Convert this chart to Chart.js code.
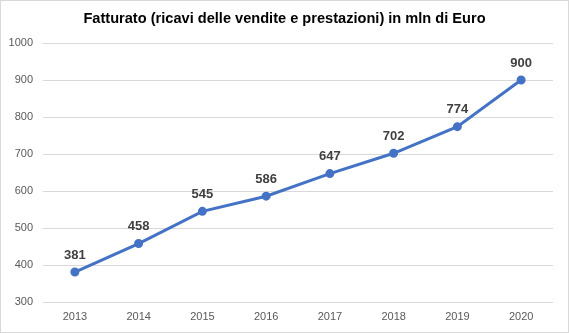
<!DOCTYPE html>
<html><head><meta charset="utf-8">
<script src="https://cdn.jsdelivr.net/npm/chart.js@4"></script>
<style>
html,body{margin:0;padding:0;background:#fff;}
#wrap{width:569px;height:333px;box-sizing:border-box;border:1px solid #d9d9d9;position:relative;}
canvas{display:block;}
</style></head>
<body>
<div id="wrap"><canvas id="c" width="567" height="331"></canvas></div>
<script>
const categories = ['2013','2014','2015','2016','2017','2018','2019','2020'];
const fatturato = [381, 458, 545, 586, 647, 702, 774, 900];
const yTicks = [300, 400, 500, 600, 700, 800, 900, 1000];
const titleText = 'Fatturato (ricavi delle vendite e prestazioni) in mln di Euro';

const labelPlugin = {
  id: 'valueLabels',
  afterDatasetsDraw(chart) {
    const ctx = chart.ctx;
    const meta = chart.getDatasetMeta(0);
    ctx.save();
    ctx.font = 'bold 13px "Liberation Sans", Arial, sans-serif';
    ctx.fillStyle = '#404040';
    ctx.textAlign = 'center';
    ctx.textBaseline = 'middle';
    meta.data.forEach((pt, i) => {
      ctx.fillText(String(chart.data.datasets[0].data[i]), pt.x, pt.y - 17);
    });
    ctx.restore();
  }
};

const FONT = '"Liberation Sans", Arial, sans-serif';

new Chart(document.getElementById('c'), {
  type: 'line',
  data: {
    labels: categories,
    datasets: [{
      data: fatturato,
      borderColor: '#4472C4',
      backgroundColor: '#4472C4',
      borderWidth: 3,
      pointRadius: 3,
      pointHoverRadius: 3,
      tension: 0,
      yAxisID: 'y'
    }]
  },
  options: {
    responsive: false,
    animation: false,
    layout: { padding: { left: 0, right: 0, top: 9, bottom: 0 } },
    plugins: {
      legend: { display: false },
      tooltip: { enabled: false },
      title: {
        display: true,
        text: titleText,
        color: '#000000',
        font: { family: FONT, size: 14.6, weight: 'bold' },
        padding: { top: 0, bottom: 15.5 }
      }
    },
    scales: {
      x: {
        offset: true,
        grid: { display: false },
        border: { display: false },
        afterFit(axis) { axis.height = 30; },
        ticks: { color: '#595959', font: { family: FONT, size: 11 }, padding: 0, maxRotation: 0 }
      },
      y: {
        position: 'left',
        min: 300,
        max: 1000,
        afterBuildTicks(axis) { axis.ticks = yTicks.map(v => ({ value: v })); },
        afterFit(axis) { axis.width = 42; },
        grid: { color: '#d9d9d9', lineWidth: 1, drawTicks: false },
        border: { display: false },
        ticks: { color: '#595959', font: { family: FONT, size: 11 }, padding: 10,
                 callback: (v) => String(v) }
      },
      spacer: {
        type: 'linear',
        position: 'right',
        min: 300,
        max: 1000,
        afterFit(axis) { axis.width = 15; },
        grid: { display: false, drawTicks: false },
        border: { display: false },
        ticks: { display: false }
      }
    }
  },
  plugins: [labelPlugin]
});
</script>
</body></html>
